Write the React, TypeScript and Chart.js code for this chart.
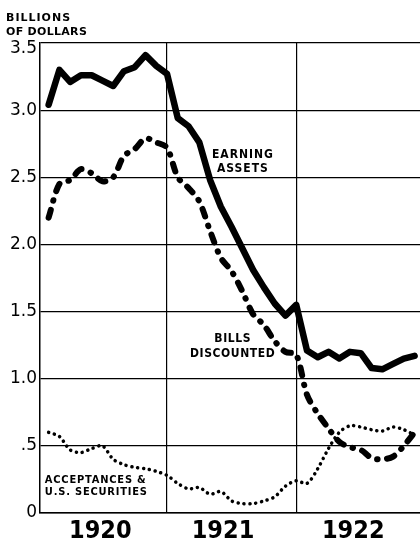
import React, { useEffect, useRef } from "react";
import { Chart, registerables } from "chart.js";

Chart.register(...registerables);

// Month index (1 = Jan 1920 ... 35)
const months = [1, 2, 3, 4, 5, 6, 7, 8, 9, 10, 11, 12, 13, 14, 15, 16, 17, 18, 19, 20, 21, 22, 23, 24, 25, 26, 27, 28, 29, 30, 31, 32, 33, 34, 35];

const earningAssets = [3.04, 3.3, 3.21, 3.26, 3.26, 3.22, 3.18, 3.29, 3.32, 3.41, 3.33, 3.27, 2.94, 2.88, 2.76, 2.48, 2.28, 2.13, 1.97, 1.81, 1.68, 1.56, 1.47, 1.55, 1.21, 1.16, 1.2, 1.15, 1.2, 1.19, 1.08, 1.07, 1.11, 1.15, 1.17];

const billsDiscounted = [2.2, 2.45, 2.48, 2.56, 2.53, 2.47, 2.5, 2.66, 2.71, 2.79, 2.76, 2.72, 2.5, 2.42, 2.32, 2.1, 1.9, 1.8, 1.65, 1.48, 1.4, 1.28, 1.2, 1.18, 0.88, 0.74, 0.63, 0.53, 0.49, 0.47, 0.41, 0.4, 0.42, 0.5, 0.6];

const acceptances = [0.6, 0.57, 0.47, 0.45, 0.48, 0.5, 0.4, 0.36, 0.34, 0.33, 0.31, 0.28, 0.22, 0.18, 0.19, 0.14, 0.16, 0.09, 0.07, 0.07, 0.09, 0.12, 0.2, 0.24, 0.22, 0.33, 0.48, 0.6, 0.65, 0.64, 0.62, 0.61, 0.64, 0.62, 0.58];

const yearLabels = ["1920", "1921", "1922"];
const yearLabelPositions = [5.8, 17.2, 29.3];
const yearBoundaries = [12, 24];

const axisTitle = ["BILLIONS", "OF DOLLARS"];
const earningLabel = ["EARNING", "ASSETS"];
const billsLabel = ["BILLS", "DISCOUNTED"];
const acceptLabel = ["ACCEPTANCES &", "U.S. SECURITIES"];

const yMax = 3.5;
const tickFont = "17px 'DejaVu Sans'";

const fmtTick = (n: number) => {
  if (n === 0) return "0";
  if (n === 0.5) return ".5";
  return n.toFixed(1);
};

const toPoints = (vals: number[]) => months.map((m, i) => ({ x: m, y: vals[i] }));

const textPlugin = {
  id: "annotText",
  afterDatasetsDraw(chart: any) {
    const ctx = chart.ctx;
    const xs = chart.scales.x;
    const ys = chart.scales.y;
    ctx.save();
    ctx.fillStyle = "#000";
    // top tick label sits just below the top line, as in the original
    ctx.font = tickFont;
    ctx.textAlign = "right";
    ctx.textBaseline = "middle";
    ctx.fillText(fmtTick(yMax), ys.right - 3, ys.getPixelForValue(yMax) + 6);
    ctx.textBaseline = "alphabetic";
    // axis title
    ctx.textAlign = "left";
    ctx.font = "bold 11px 'DejaVu Sans'";
    (ctx as any).letterSpacing = "1px";
    ctx.fillText(axisTitle[0], 6, 21);
    (ctx as any).letterSpacing = "0.3px";
    ctx.fillText(axisTitle[1], 6, 35);
    // series labels
    ctx.textAlign = "center";
    ctx.font = "bold 12px 'DejaVu Sans Condensed', 'DejaVu Sans'";
    (ctx as any).letterSpacing = "1px";
    const ex = xs.getPixelForValue(19.05);
    const ey = ys.getPixelForValue(2.64);
    ctx.fillText(earningLabel[0], ex, ey);
    ctx.fillText(earningLabel[1], ex, ey + 14);
    (ctx as any).letterSpacing = "0.6px";
    const bx = xs.getPixelForValue(18.1);
    const by = ys.getPixelForValue(1.27);
    ctx.fillText(billsLabel[0], bx, by);
    ctx.fillText(billsLabel[1], bx, by + 15);
    ctx.textAlign = "left";
    ctx.font = "bold 11px 'DejaVu Sans Condensed', 'DejaVu Sans'";
    (ctx as any).letterSpacing = "0.8px";
    const ax = xs.getPixelForValue(0.65);
    const ay = ys.getPixelForValue(0.22);
    ctx.fillText(acceptLabel[0], ax, ay);
    ctx.fillText(acceptLabel[1], ax, ay + 12);
    ctx.restore();
  },
};

export default function App() {
  const ref = useRef<HTMLCanvasElement | null>(null);
  useEffect(() => {
    if (!ref.current) return;
    const chart = new Chart(ref.current, {
      type: "line",
      data: {
        datasets: [
          {
            label: "Earning assets",
            data: toPoints(earningAssets),
            borderColor: "#000",
            borderWidth: 6.5,
            borderJoinStyle: "round",
            borderCapStyle: "round",
            pointRadius: 0,
            tension: 0,
          },
          {
            label: "Bills discounted",
            data: toPoints(billsDiscounted),
            borderColor: "#000",
            borderWidth: 6,
            borderDash: [8, 9.5, 0.5, 9.5],
            borderCapStyle: "round",
            borderJoinStyle: "round",
            pointRadius: 0,
            tension: 0.3,
          },
          {
            label: "Acceptances & U.S. securities",
            data: toPoints(acceptances),
            borderColor: "#000",
            borderWidth: 3.5,
            borderDash: [0.1, 5.8],
            borderCapStyle: "round",
            pointRadius: 0,
            tension: 0.3,
          },
        ],
      },
      options: {
        responsive: false,
        animation: false,
        devicePixelRatio: 1,
        layout: { padding: { top: 43, right: 0, left: 0, bottom: 0 } },
        plugins: { legend: { display: false }, tooltip: { enabled: false }, title: { display: false } },
        scales: {
          x: {
            type: "linear",
            min: 0.2,
            max: 35.5,
            grid: { display: false, drawTicks: false },
            border: { display: true, color: "#000", width: 1.5 },
            afterBuildTicks: (scale: any) => {
              scale.ticks = yearLabelPositions.map((v) => ({ value: v }));
            },
            afterFit: (scale: any) => {
              scale.height = 31;
            },
            ticks: {
              autoSkip: false,
              maxRotation: 0,
              color: "#000",
              padding: 3,
              font: { family: "'DejaVu Sans Condensed', 'DejaVu Sans'", size: 25, weight: "bold" },
              callback: (_v: any, i: number) => yearLabels[i],
            },
          },
          x2: {
            type: "linear",
            position: "top",
            min: 0.2,
            max: 35.5,
            grid: { display: true, drawTicks: false, color: "#000", lineWidth: 1.2 },
            border: { display: false },
            ticks: { display: false },
            afterBuildTicks: (scale: any) => {
              scale.ticks = yearBoundaries.map((v) => ({ value: v }));
            },
            afterFit: (scale: any) => {
              scale.height = 0;
            },
          },
          y: {
            type: "linear",
            min: 0,
            max: yMax,
            grid: { color: "#000", lineWidth: 1.2, drawTicks: false },
            border: { display: true, color: "#000", width: 1.5 },
            afterFit: (scale: any) => {
              scale.width = 40;
            },
            ticks: {
              stepSize: 0.5,
              color: "#000",
              padding: 3,
              font: { family: "'DejaVu Sans'", size: 17 },
              callback: (v: any) => {
                const n = Number(v);
                if (n === yMax) return "";
                return fmtTick(n);
              },
            },
          },
        },
      },
      plugins: [textPlugin],
    } as any);
    return () => chart.destroy();
  }, []);
  return (
    <div style={{ position: "absolute", left: 0, top: 0, width: 420, height: 544, background: "#fff" }}>
      <canvas ref={ref} width={420} height={544} style={{ display: "block" }} />
    </div>
  );
}
